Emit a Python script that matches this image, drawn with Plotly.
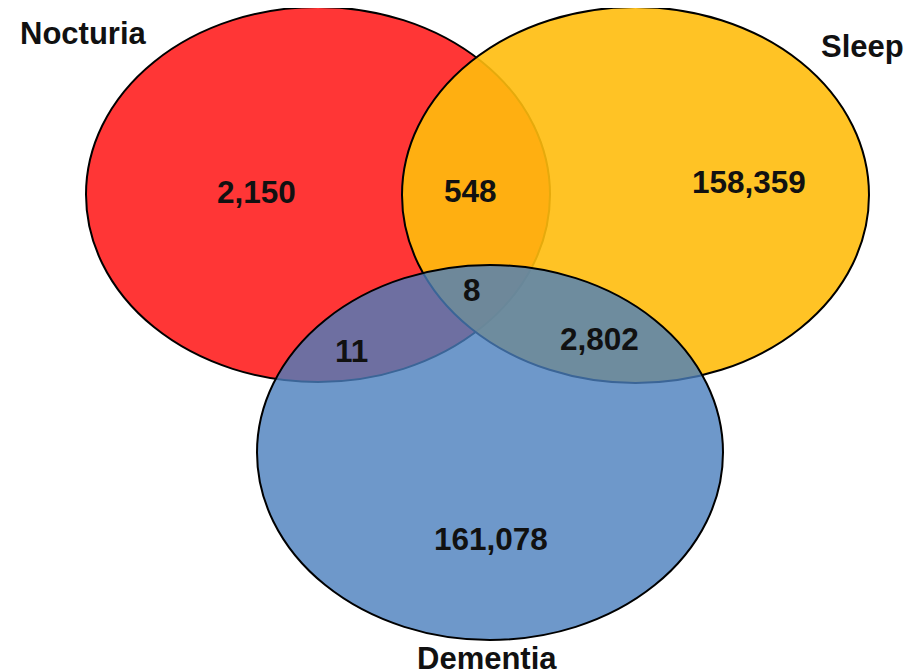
import plotly.graph_objects as go

# ---- data ----
set_names = ["Nocturia", "Sleep", "Dementia"]
region_keys = ["N", "S", "D", "NS", "ND", "SD", "NSD"]
region_counts = [2150, 158359, 161078, 548, 11, 2802, 8]

# ---- layout geometry (page pixel space, y downward) ----
W, H = 917, 672
OFF = 8  # default page body margin
ellipses = {  # x0, x1, y0, y1
    "Nocturia": (86, 550, 7, 382),
    "Sleep": (402, 869, 7, 383),
    "Dementia": (257, 723, 265, 640),
}
fills = {
    "Nocturia": "rgba(255,54,54,1)",
    "Sleep": "rgba(255,189,13,0.9)",
    "Dementia": "rgba(74,126,189,0.8)",
}
region_pos = {
    "N": (256, 192), "S": (749, 182), "D": (491, 539),
    "NS": (470, 191), "ND": (351, 351), "SD": (599, 339), "NSD": (472, 290),
}
name_pos = {"Nocturia": (83, 33), "Sleep": (862, 46), "Dementia": (487, 658)}

FONT = "Liberation Sans, Arial, sans-serif"

fig = go.Figure()
fig.add_trace(go.Scatter(x=[OFF, W + OFF], y=[OFF, H + OFF], mode="markers",
                         marker=dict(opacity=0), hoverinfo="skip", showlegend=False))

for name in set_names:
    x0, x1, y0, y1 = ellipses[name]
    fig.add_shape(type="circle", xref="x", yref="y", x0=x0, x1=x1, y0=y0, y1=y1,
                  fillcolor=fills[name], line=dict(color="black", width=2), layer="above")

for key, cnt in zip(region_keys, region_counts):
    x, y = region_pos[key]
    fig.add_annotation(x=x, y=y, xref="x", yref="y", text=f"<b>{cnt:,}</b>",
                       showarrow=False, font=dict(family=FONT, size=31.5, color="#111111"))

for name in set_names:
    x, y = name_pos[name]
    fig.add_annotation(x=x, y=y, xref="x", yref="y", text=f"<b>{name}</b>",
                       showarrow=False, font=dict(family=FONT, size=31, color="#111111"))

fig.update_layout(
    width=W, height=H, margin=dict(l=0, r=0, t=0, b=0),
    paper_bgcolor="white", plot_bgcolor="white",
    xaxis=dict(range=[OFF, W + OFF], visible=False, fixedrange=True),
    yaxis=dict(range=[H + OFF, OFF], visible=False, fixedrange=True),
    showlegend=False,
)
fig.write_html("out.html")
